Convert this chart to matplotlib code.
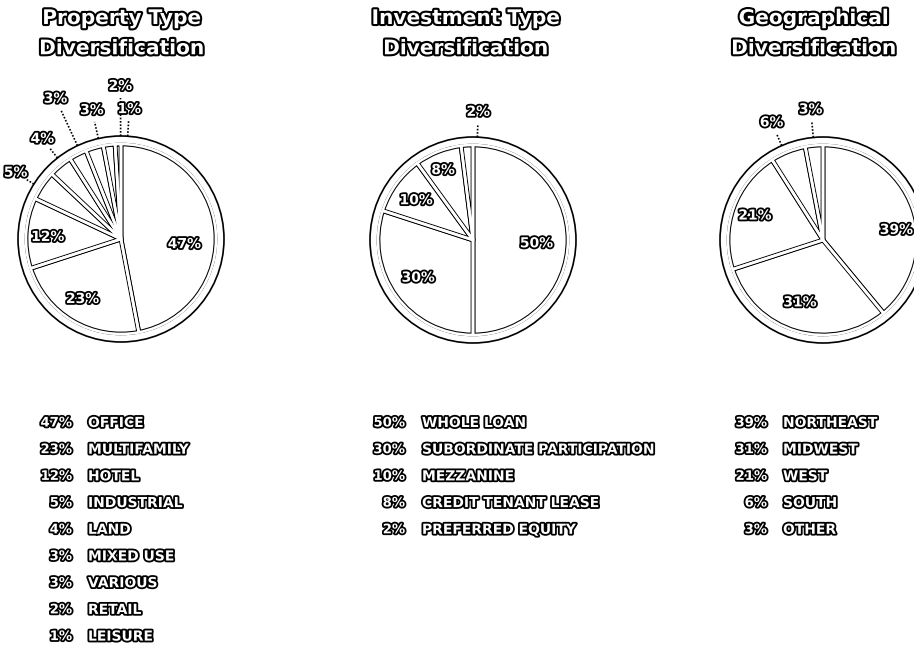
import matplotlib.pyplot as plt
import matplotlib.patheffects as pe
import numpy as np

W, H = 914, 648

# data
prop_names = ["OFFICE", "MULTIFAMILY", "HOTEL", "INDUSTRIAL", "LAND",
              "MIXED USE", "VARIOUS", "RETAIL", "LEISURE"]
prop_vals = [47, 23, 12, 5, 4, 3, 3, 2, 1]

inv_names = ["WHOLE LOAN", "SUBORDINATE PARTICIPATION", "MEZZANINE",
             "CREDIT TENANT LEASE", "PREFERRED EQUITY"]
inv_vals = [50, 30, 10, 8, 2]

geo_names = ["NORTHEAST", "MIDWEST", "WEST", "SOUTH", "OTHER"]
geo_vals = [39, 31, 21, 6, 3]

titles = ["Property Type\nDiversification",
          "Investment Type\nDiversification",
          "Geographical\nDiversification"]

# layout (pixels, image coords)
centers = [(121, 239), (473, 240), (823, 240)]
title_x = [122, 466, 814]
legend_x = [(72, 88), (405, 422), (767, 783)]
R = 95
RING = 103

# label placement: radius (pie units) and angle nudge (deg)
lab_r = [[0.67, 0.75, 0.77, 1.31, 1.34, 1.63, 1.39, 1.61, 1.37],
         [0.67, 0.70, 0.73, 0.80, 1.35],
         [0.78, 0.70, 0.76, 1.35, 1.38]]
lab_da = [[-10, -2, 2, 2, -1.5, -2, -3.5, -7, -5.5],
          [-3, -1.5, 1, 1.5, -6],
          [-12, -4, 0, 2, 0]]

outline = [pe.withStroke(linewidth=2.6, foreground="black")]
title_outline = [pe.withStroke(linewidth=3.0, foreground="black")]

fig = plt.figure(figsize=(W / 100, H / 100), dpi=100)
ax = fig.add_axes([0, 0, 1, 1])


def txt(x, y, s, size, **kw):
    ax.text(x, H - y, s, fontsize=size, fontweight="bold", color="white",
            path_effects=kw.pop("pe", outline), zorder=10, **kw)


all_vals = [prop_vals, inv_vals, geo_vals]
all_names = [prop_names, inv_names, geo_names]

for i, vals in enumerate(all_vals):
    cx, cy = centers[i]
    c = (cx, H - cy)
    # outer ring
    ax.add_patch(plt.Circle(c, RING, facecolor="white", edgecolor="black",
                            lw=1.2, zorder=1))
    wedges, _ = ax.pie(vals, radius=R, center=c, startangle=90,
                       counterclock=False,
                       wedgeprops=dict(facecolor="white", edgecolor="black",
                                       lw=3.4, joinstyle="round", zorder=2))
    ax.pie(vals, radius=R, center=c, startangle=90, counterclock=False,
           wedgeprops=dict(facecolor="none", edgecolor="white", lw=1.9,
                           joinstyle="round", zorder=3))
    # keep a single outer arc
    ax.add_patch(plt.Circle(c, R + 2.2, facecolor="none", edgecolor="white",
                            lw=1.3, zorder=4))

    for k, w in enumerate(wedges):
        ang = np.deg2rad((w.theta1 + w.theta2) / 2 + lab_da[i][k])
        r = lab_r[i][k] * R
        lx, ly = c[0] + r * np.cos(ang), c[1] + r * np.sin(ang)
        ax.text(lx, ly, f"{vals[k]}%", fontsize=10, fontweight="bold",
                color="white", ha="center", va="center",
                path_effects=outline, zorder=10)
        if lab_r[i][k] > 1:
            r0, r1 = RING, r - 12
            ax.plot([c[0] + r0 * np.cos(ang), c[0] + r1 * np.cos(ang)],
                    [c[1] + r0 * np.sin(ang), c[1] + r1 * np.sin(ang)],
                    color="black", lw=1.2, ls=(0, (1, 1)), zorder=5)

    # title
    txt(title_x[i], 9, titles[i], 14.5, ha="center", va="top",
        linespacing=1.75, pe=title_outline)

    # legend list
    px, nx = legend_x[i]
    for k, name in enumerate(all_names[i]):
        y = 423 + k * 26.7
        txt(px, y, f"{vals[k]}%", 9.5, ha="right", va="center")
        txt(nx, y, name, 10, ha="left", va="center")

ax.set_xlim(0, W)
ax.set_ylim(0, H)
ax.set_aspect("equal")
ax.axis("off")

fig.savefig("out.png", dpi=100, facecolor="white")
